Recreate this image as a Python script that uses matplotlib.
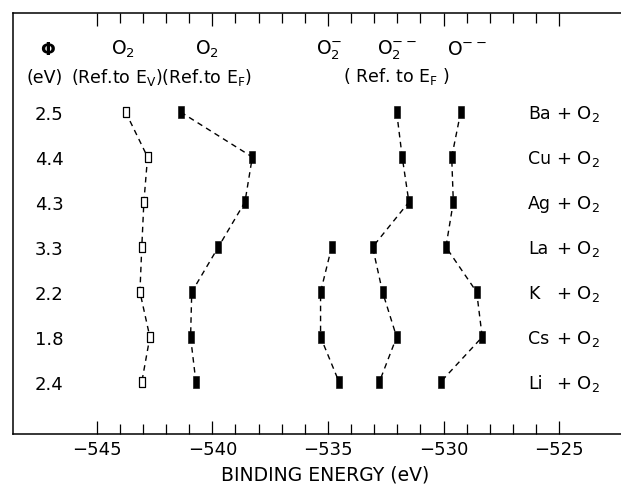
import matplotlib
matplotlib.use("Agg")
import matplotlib.pyplot as plt

plt.rcParams["font.family"] = ["DejaVu Sans"]
plt.rcParams["mathtext.default"] = "regular"

# Adsorbed oxygen species on various metals: O 1s binding energies (eV)
systems = ["Ba", "Cu", "Ag", "La", "K", "Cs", "Li"]
work_function = ["2.5", "4.4", "4.3", "3.3", "2.2", "1.8", "2.4"]

o2_ref_vacuum = [-543.75, -542.80, -542.96, -543.05, -543.13, -542.70, -543.05]
o2_ref_fermi = [-541.37, -538.27, -538.59, -539.74, -540.89, -540.94, -540.71]
o2_minus = [None, None, None, -534.84, -535.32, -535.32, -534.52]
o2_2minus = [-532.03, -531.79, -531.50, -533.07, -532.64, -532.03, -532.78]
o_2minus = [-529.26, -529.65, -529.58, -529.90, -528.57, -528.33, -530.13]

x_ticks_major = [-545, -540, -535, -530, -525]

fig = plt.figure(figsize=(6.21, 4.85), dpi=100)
ax = fig.add_axes([0.0205, 0.103, 0.9795, 0.868])

rows = list(range(len(systems)))

filled_rect = [(-0.27, -0.5), (0.27, -0.5), (0.27, 0.5), (-0.27, 0.5), (-0.27, -0.5)]
open_rect = [(-0.25, -0.5), (0.25, -0.5), (0.25, 0.5), (-0.25, 0.5), (-0.25, -0.5)]
dash = (0, (4, 3.2))


def draw_series(values, marker, face, ms):
    pts = [(v, r) for v, r in zip(values, rows) if v is not None]
    xs = [p[0] for p in pts]
    ys = [p[1] for p in pts]
    ax.plot(xs, ys, color="black", lw=1.0, ls=dash, zorder=2)
    ax.plot(xs, ys, ls="none", marker=marker, ms=ms, mfc=face, mec="black",
            mew=0.9 if face == "white" else 0.4, zorder=3)


draw_series(o2_ref_vacuum, open_rect, "white", 7.4)
draw_series(o2_ref_fermi, filled_rect, "black", 8.0)
draw_series(o2_minus, filled_rect, "black", 8.0)
draw_series(o2_2minus, filled_rect, "black", 8.0)
draw_series(o_2minus, filled_rect, "black", 8.0)

ax.set_xlim(-548.63, -522.33)
ax.set_ylim(7.156, -2.2)

ax.set_xticks(x_ticks_major)
ax.set_xticks([v for v in range(-545, -524)], minor=True)
ax.tick_params(axis="x", which="both", direction="in", top=True, bottom=True,
               width=0.9, labelsize=13, pad=4.5)
ax.tick_params(axis="x", which="major", length=9.5)
ax.tick_params(axis="x", which="minor", length=7)
ax.set_yticks([])
ax.spines["right"].set_visible(False)
for s in ("left", "top", "bottom"):
    ax.spines[s].set_linewidth(1.1)

ax.set_xlabel("BINDING ENERGY (eV)", fontsize=13.5)
ax.xaxis.set_label_coords(0.513, -0.072)

fs = 12.5
# column headers
ax.text(-547.11, -1.3, "Φ", ha="center", va="baseline", fontsize=fs, fontweight="bold")
ax.text(-543.86, -1.3, "O$_2$", ha="center", va="baseline", fontsize=fs + 1)
ax.text(-540.23, -1.3, "O$_2$", ha="center", va="baseline", fontsize=fs + 1)
ax.text(-534.96, -1.3, "O$_2^{-}$", ha="center", va="baseline", fontsize=fs + 1)
ax.text(-532.02, -1.3, "O$_2^{--}$", ha="center", va="baseline", fontsize=fs + 1)
ax.text(-528.99, -1.3, "O$^{--}$", ha="center", va="baseline", fontsize=fs + 1)

ax.text(-547.24, -0.67, "(eV)", ha="center", va="baseline", fontsize=fs)
ax.text(-546.1, -0.67, "(Ref.to E$_V$)(Ref.to E$_F$)", ha="left", va="baseline",
        fontsize=fs)
ax.text(-532.06, -0.69, "( Ref. to E$_F$ )", ha="center", va="baseline", fontsize=fs)

# work function column and system labels
for r, wf, name in zip(rows, work_function, systems):
    ax.text(-547.06, r + 0.16, wf, ha="center", va="baseline", fontsize=13)
    ax.text(-526.35, r + 0.13, name, ha="left", va="baseline", fontsize=fs)
    ax.text(-525.15, r + 0.13, "+ O$_2$", ha="left", va="baseline", fontsize=fs + 0.5)

fig.savefig("out.png", dpi=100)
